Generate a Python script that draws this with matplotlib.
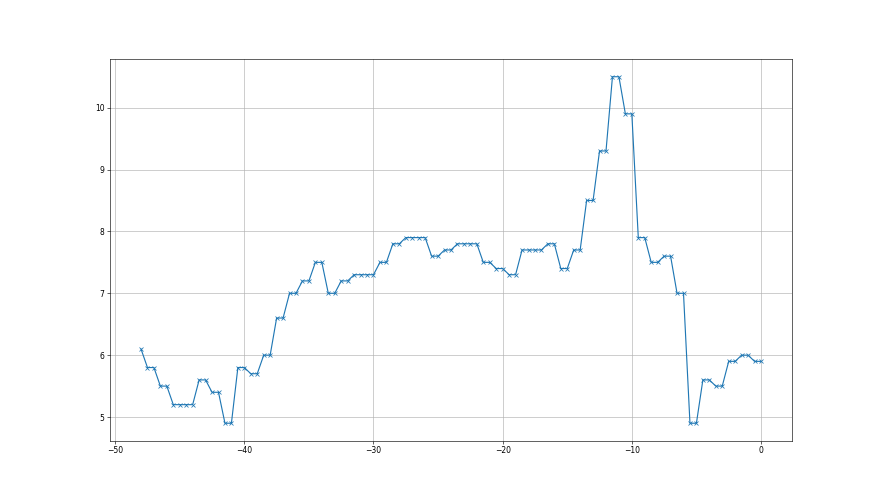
import numpy as np
import matplotlib
matplotlib.use("Agg")
import matplotlib.pyplot as plt

# x positions: every half step from -48 to 0
hours = np.arange(-48, 0.01, 0.5)

values = [
    6.1,
    5.8, 5.8,
    5.5, 5.5,
    5.2, 5.2, 5.2, 5.2,
    5.6, 5.6,
    5.4, 5.4,
    4.9, 4.9,
    5.8, 5.8,
    5.7, 5.7,
    6.0, 6.0,
    6.6, 6.6,
    7.0, 7.0,
    7.2, 7.2,
    7.5, 7.5,
    7.0, 7.0,
    7.2, 7.2,
    7.3, 7.3, 7.3, 7.3,
    7.5, 7.5,
    7.8, 7.8,
    7.9, 7.9, 7.9, 7.9,
    7.6, 7.6,
    7.7, 7.7,
    7.8, 7.8, 7.8, 7.8,
    7.5, 7.5,
    7.4, 7.4,
    7.3, 7.3,
    7.7, 7.7, 7.7, 7.7,
    7.8, 7.8,
    7.4, 7.4,
    7.7, 7.7,
    8.5, 8.5,
    9.3, 9.3,
    10.5, 10.5,
    9.9, 9.9,
    7.9, 7.9,
    7.5, 7.5,
    7.6, 7.6,
    7.0, 7.0,
    4.9, 4.9,
    5.6, 5.6,
    5.5, 5.5,
    5.9, 5.9,
    6.0, 6.0,
    5.9, 5.9,
]

fig, ax = plt.subplots(figsize=(16, 9), dpi=55)
ax.plot(hours, values, marker='x', color='#1f77b4')
ax.grid(True)
fig.savefig('out.png', dpi=55)
